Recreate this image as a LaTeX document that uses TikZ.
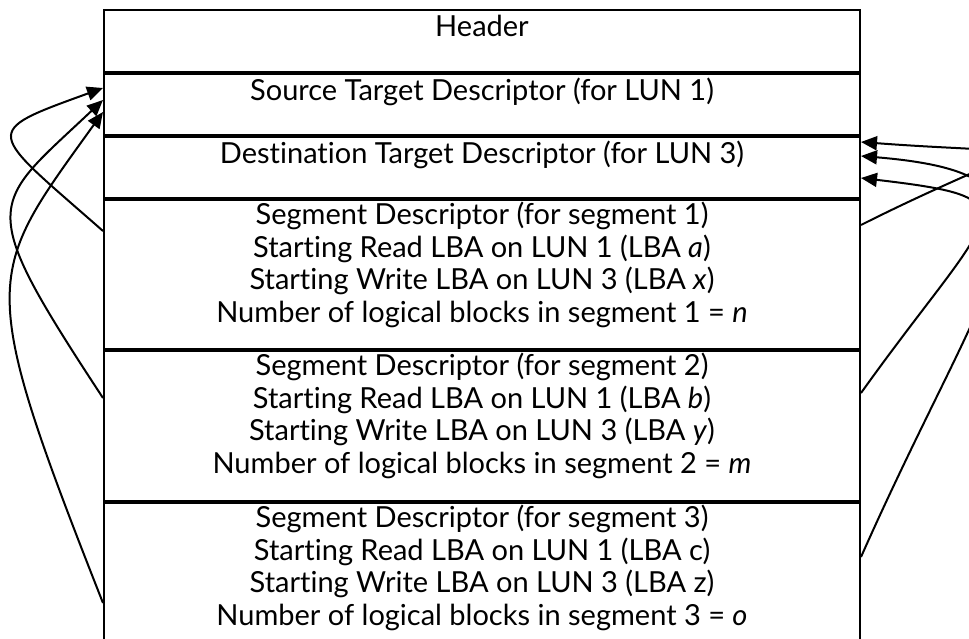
\documentclass[tikz,border=0pt]{standalone}
\usepackage{fontspec}
\setmainfont{Lato}[Ligatures={NoCommon,NoContextual}]
\usetikzlibrary{arrows.meta,positioning}

\begin{document}
\begin{tikzpicture}
        [x=1pt, y=-1pt,
        row/.style={draw, line width=2pt, minimum width=756pt, inner sep=0pt, anchor=north},
        txt/.style={align=center, inner sep=0pt, anchor=north, font=\fontsize{29}{32.5}\selectfont, execute at begin node=\strut},
        link/.style={line width=2pt, -{Triangle[length=16pt,width=14pt]}}]
        \useasboundingbox (0,0) rectangle (969,639);
        \clip (0,0) rectangle (969,639);
        \node[row, minimum height=62pt] (hdr) at (482,9) {};
        \node[row, minimum height=61pt, below=0pt of hdr] (src) {};
        \node[row, minimum height=61pt, below=0pt of src] (dst) {};
        \node[row, minimum height=149pt, below=0pt of dst] (seg1) {};
        \node[row, minimum height=150pt, below=0pt of seg1] (seg2) {};
        \node[row, minimum height=170pt, below=0pt of seg2] (seg3) {};

        \node[txt, below=4.5pt of hdr.north] (hdrtxt) {Header};
        \node[txt, below=4.5pt of src.north] (srctxt) {Source Target Descriptor (for LUN 1)};
        \node[txt, below=4.5pt of dst.north] (dsttxt) {Destination Target Descriptor (for LUN 3)};
        \node[txt, below=3pt of seg1.north] (seg1txt) {Segment Descriptor (for segment 1)\\
            Starting Read LBA on LUN 1 (LBA \textit{a})\\
            Starting Write LBA on LUN 3 (LBA \textit{x})\\
            Number of logical blocks in segment 1 = \textit{n}};
        \node[txt, below=3pt of seg2.north] (seg2txt) {Segment Descriptor (for segment 2)\\
            Starting Read LBA on LUN 1 (LBA \textit{b})\\
            Starting Write LBA on LUN 3 (LBA \textit{y})\\
            Number of logical blocks in segment 2 = \textit{m}};
        \node[txt, below=3pt of seg3.north] (seg3txt) {Segment Descriptor (for segment 3)\\
            Starting Read LBA on LUN 1 (LBA c)\\
            Starting Write LBA on LUN 3 (LBA z)\\
            Number of logical blocks in segment 3 = \textit{o}};

        % reads point back to the source descriptor
        \draw[link] ([yshift=-32pt]seg1.north west) .. controls +(-116,-102) and +(-124,45) .. ([yshift=-15pt]src.north west);
        \draw[link] ([yshift=-48pt]seg2.north west) .. controls +(-130,-198) and +(-113,107) .. ([yshift=-27pt]src.north west);
        \draw[link] ([yshift=-101pt]seg3.north west) .. controls +(-129,-327) and +(-117,163) .. ([yshift=-39pt]src.north west);

        % writes point back to the destination descriptor
        \draw[link] ([yshift=-26pt]seg1.north east) .. controls +(179,-90) and +(199,15) .. ([yshift=-6pt]dst.north east);
        \draw[link] ([yshift=-43pt]seg2.north east) .. controls +(133,-186) and +(179,21) .. ([yshift=-42pt]dst.north east);
        \draw[link] ([yshift=-55pt]seg3.north east) .. controls +(134,-302) and +(229,19) .. ([yshift=-20pt]dst.north east);
    \end{tikzpicture}
\end{document}
